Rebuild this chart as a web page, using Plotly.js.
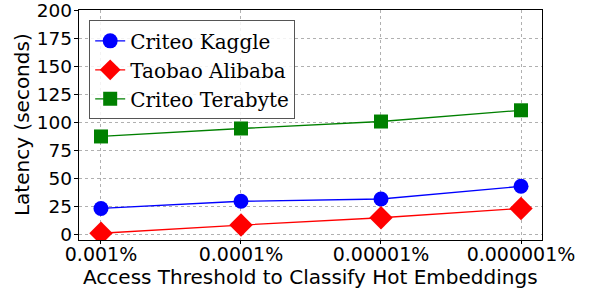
<!DOCTYPE html>
<html><head><meta charset="utf-8">
<script src="https://cdn.plot.ly/plotly-3.0.1.min.js"></script>
<style>html,body{margin:0;padding:0;background:#fff;}#chart{width:595px;height:297px;}</style>
</head><body><div id="chart"></div>
<script>
const categories = ["0.001%", "0.0001%", "0.00001%", "0.000001%"];
const kaggle = [23.6, 30.0, 32.0, 43.3];
const taobao = [1.5, 8.8, 15.3, 23.6];
const terabyte = [87.7, 94.8, 101.0, 111.0];
const yTicks = [0, 25, 50, 75, 100, 125, 150, 175, 200];

const xIdx = categories.map((_, i) => i);
function tr(name, y, color, symbol, size) {
  return {x: xIdx, y: y, name: name, type: 'scatter', mode: 'lines+markers',
    line: {color: color, width: 1.3}, marker: {color: color, symbol: symbol, size: size}};
}
const data = [
  tr('Criteo Kaggle', kaggle, 'blue', 'circle', 15),
  tr('Taobao Alibaba', taobao, 'red', 'diamond', 18),
  tr('Criteo Terabyte', terabyte, 'green', 'square', 14)
];
const layout = {
  width: 595, height: 297,
  margin: {l: 79, r: 53, t: 10, b: 57},
  paper_bgcolor: 'white', plot_bgcolor: 'white',
  showlegend: true,
  font: {family: 'DejaVu Sans', color: 'black'},
  xaxis: {
    tickmode: 'array', tickvals: xIdx, ticktext: categories,
    range: [-0.157, 3.15],
    showgrid: true, gridcolor: '#b0b0b0', griddash: 'dot', gridwidth: 1,
    showline: true, linecolor: 'black', linewidth: 1.2, mirror: true,
    ticks: 'outside', ticklen: 3, tickcolor: 'black',
    tickfont: {family: 'DejaVu Sans', size: 19},
    ticklabeloverflow: 'allow', ticklabelstandoff: -6,
    zeroline: false
  },
  yaxis: {
    tickmode: 'array', tickvals: yTicks,
    range: [-4.5, 200.3],
    showgrid: true, gridcolor: '#b0b0b0', griddash: 'dot', gridwidth: 1,
    showline: true, linecolor: 'black', linewidth: 1.2, mirror: true,
    ticks: 'outside', ticklen: 4, tickcolor: 'black',
    tickfont: {family: 'DejaVu Sans', size: 18.5},
    ticklabeloverflow: 'allow', ticklabelstandoff: -2,
    zeroline: false
  },
  annotations: [
    {text: 'Access Threshold to Classify Hot Embeddings', xref: 'paper', yref: 'paper',
     x: 0.5, y: -0.16, xanchor: 'center', yanchor: 'middle', showarrow: false,
     font: {family: 'DejaVu Sans', size: 20, color: 'black'}},
    {text: 'Latency (seconds)', xref: 'paper', yref: 'paper', textangle: -90,
     x: -0.123, y: 0.5, xanchor: 'center', yanchor: 'middle', showarrow: false,
     font: {family: 'DejaVu Sans', size: 20, color: 'black'}}
  ],
  legend: {
    x: 0.022, y: 0.955, xanchor: 'left', yanchor: 'top',
    bgcolor: 'rgba(255,255,255,0.85)', bordercolor: '#555', borderwidth: 1,
    font: {family: 'DejaVu Serif', size: 20, color: 'black'}
  }
};
Plotly.newPlot('chart', data, layout, {staticPlot: true, displayModeBar: false});
</script></body></html>
